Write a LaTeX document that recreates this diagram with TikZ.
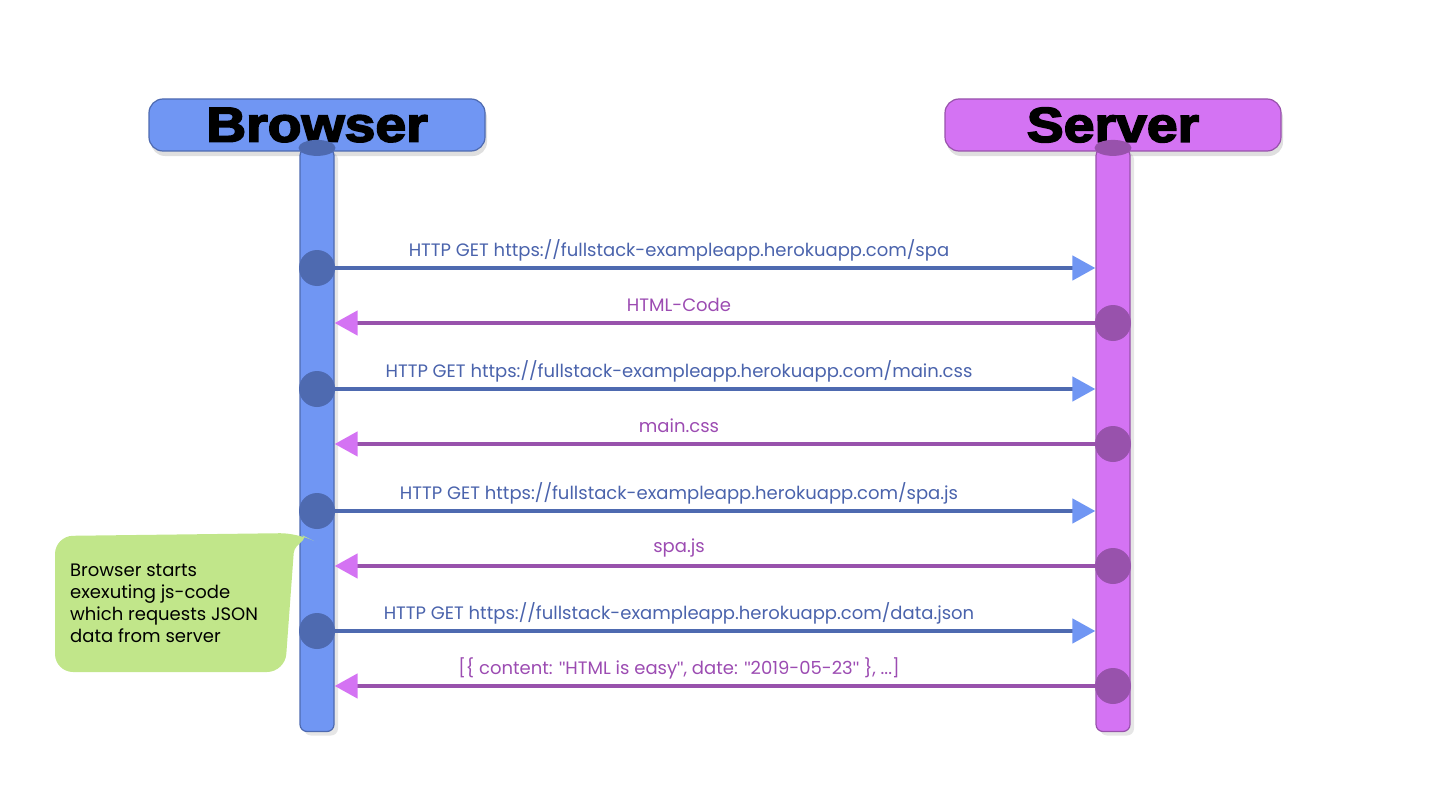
\documentclass[tikz,border=0pt]{standalone}
\usepackage{fontspec}
\setmainfont{Poppins}
\newfontfamily\headfont{Liberation Sans Bold}[FakeBold=3.5,FakeStretch=1.13]
\newfontfamily\quotefont{Liberation Sans}
\usepackage{tikz}
\usetikzlibrary{arrows.meta,shadows}

\definecolor{bfill}{RGB}{112,150,243}
\definecolor{bdark}{RGB}{78,106,176}
\definecolor{btext}{RGB}{74,99,172}
\definecolor{sfill}{RGB}{212,115,243}
\definecolor{sdark}{RGB}{152,82,172}
\definecolor{stext}{RGB}{156,76,178}
\definecolor{note}{RGB}{193,230,138}
\newcommand\dq{{\quotefont\char34}}

\begin{document}
\begin{tikzpicture}[x=1pt,y=-1pt,
  head/.style={draw,line width=1.2pt,rounded corners=14pt,minimum width=336pt,minimum height=52pt,
    inner sep=0pt,font=\headfont\fontsize{49}{49}\selectfont,
    drop shadow={opacity=.25,shadow xshift=2pt,shadow yshift=-5pt}},
  life/.style={draw,line width=1.2pt,rounded corners=7pt,minimum width=34pt,minimum height=583pt,
    inner sep=0pt,drop shadow={opacity=.2,shadow xshift=4pt,shadow yshift=-4pt}},
  dot/.style={circle,minimum size=36pt,inner sep=0pt},
  msg/.style={font=\fontsize{18}{22}\selectfont},
  req/.style={bdark,line width=4.5pt,-{Triangle[length=23pt,width=24pt,color=bfill]}},
  res/.style={sdark,line width=4.5pt,-{Triangle[length=23pt,width=24pt,color=sfill]}}]
\useasboundingbox (0,0) rectangle (1440,789);

\node[head,fill=bfill,draw=bdark] (browser) at (317,125) {Browser};
\node[head,fill=sfill,draw=sdark] (server) at (1113,125) {Server};
\node[life,fill=bfill,draw=bdark] (blife) at (317,440) {};
\node[life,fill=sfill,draw=sdark] (slife) at (1113,440) {};
\fill[bdark] (blife.north) ellipse [x radius=18.5,y radius=8];
\fill[sdark] (slife.north) ellipse [x radius=18.5,y radius=8];

% requests
\foreach \y/\t [count=\i] in {268/spa,389/main.css,511/spa.js,631/data.json}{
  \node[dot,fill=bdark] (req\i) at (317,\y) {};
  \draw[req] (req\i) -- (req\i -| blife.east) -- (req\i -| slife.west);
  \node[msg,text=btext] (reqlabel\i) at (679,\y-18) {HTTP GET https://fullstack-exampleapp.herokuapp.com/\t};
}

% responses
\foreach \y/\t [count=\i] in {323/HTML-Code,444/main.css,566/spa.js,
  686/{[\{ content: \dq HTML is easy\dq, date: \dq 2019-05-23\dq\ \}, ...]}}{
  \node[dot,fill=sdark] (res\i) at (1113,\y) {};
  \draw[res] (res\i) -- (res\i -| slife.west) -- (res\i -| blife.east);
  \node[msg,text=stext] (reslabel\i) at (679,\y-18) {\t};
}

% note
\fill[note,rounded corners=18pt] (55,536) -- (298,533) [rounded corners=4pt] -- (306,537)
  -- (294,549) [rounded corners=18pt] -- (285,672) -- (55,672) -- cycle;
\node[msg,anchor=north west,align=left,inner sep=0pt,text=black] (jsnote) at (70,564)
  {Browser starts\\exexuting js-code\\which requests JSON\\data from server};
\end{tikzpicture}
\end{document}
